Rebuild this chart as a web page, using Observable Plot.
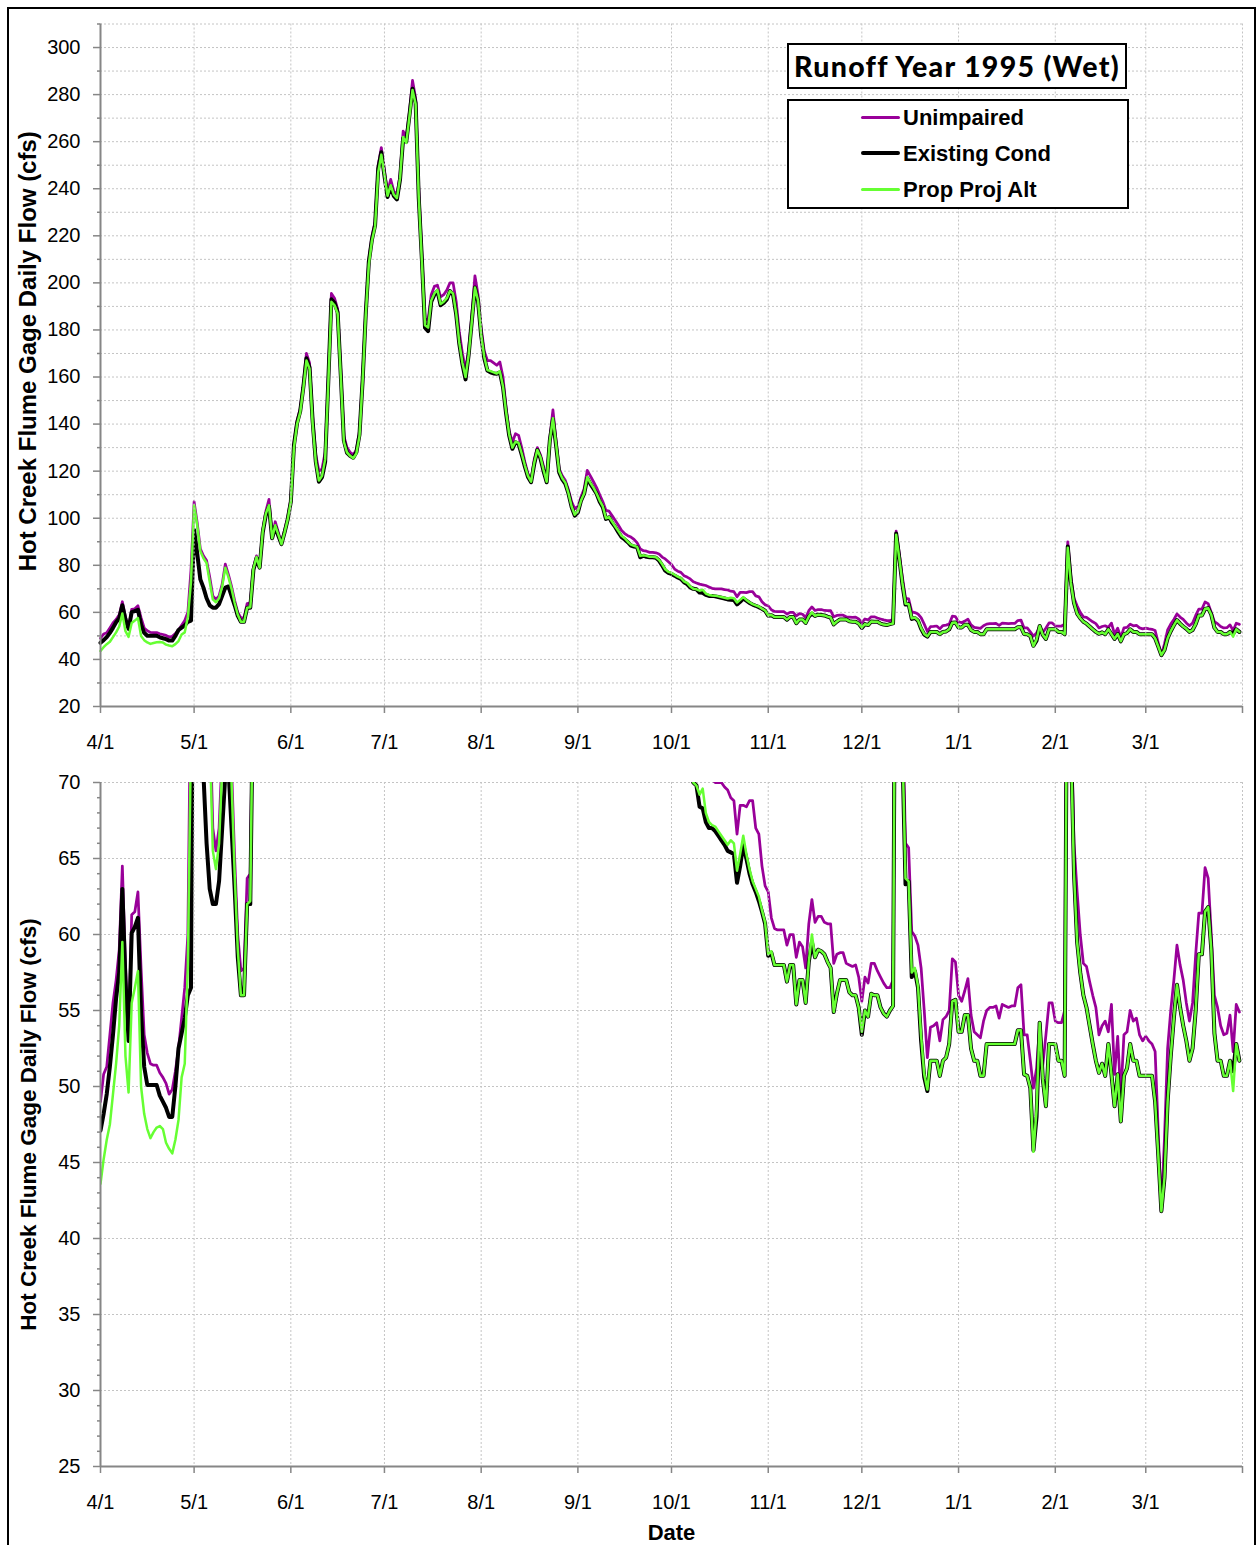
<!DOCTYPE html>
<html>
<head>
<meta charset="utf-8">
<script src="https://cdn.jsdelivr.net/npm/d3@7"></script>
<script src="https://cdn.jsdelivr.net/npm/@observablehq/plot@0.6"></script>
<style>
  body { margin: 0; background: #fff; }
  #wrap { position: relative; width: 1259px; height: 1545px; overflow: hidden; background: #fff;
          font-family: "Liberation Sans", Arial, sans-serif; }
  #topChart { position: absolute; left: 0; top: 0; }
  #bottomChart { position: absolute; left: 0; top: 770px; }
  #frame { position: absolute; left: 7px; top: 7px; width: 1249px; height: 1700px; border: 2px solid #000;
           box-sizing: border-box; pointer-events: none; }
  #titleBox { position: absolute; left: 787px; top: 43px; width: 340px; height: 46px; border: 2px solid #000;
              box-sizing: border-box; background: #fff; display: flex; align-items: center; justify-content: center; }
  #titleText { font-family: Lato, "Open Sans", sans-serif; font-weight: 900; font-size: 28.5px; white-space: nowrap; color: #000; }
  #legendBox { position: absolute; left: 787px; top: 99px; width: 342px; height: 110px; border: 2px solid #000;
               box-sizing: border-box; background: #fff; }
  .legLine { position: absolute; left: 72px; width: 39px; }
  .legText { position: absolute; left: 114px; font-family: "Liberation Sans", Arial, sans-serif; font-weight: bold;
             font-size: 22px; line-height: 22px; white-space: nowrap; color: #000; }
</style>
</head>
<body>
<div id="wrap">
  <div id="topChart"></div>
  <div id="bottomChart"></div>
  <div id="titleBox"><span id="titleText"></span></div>
  <div id="legendBox"></div>
  <div id="frame"></div>
</div>
<script>
// ---------------- data ----------------
const chartTitle = "Runoff Year 1995 (Wet)";
const yTitle = "Hot Creek Flume Gage Daily Flow (cfs)";
const xTitle = "Date";
const seriesNames = ["Unimpaired", "Existing Cond", "Prop Proj Alt"];
const seriesColors = ["#990099", "#000000", "#66ff33"];
const monthTickLabels = ["4/1","5/1","6/1","7/1","8/1","9/1","10/1","11/1","12/1","1/1","2/1","3/1"];
const topYTicks = [20,40,60,80,100,120,140,160,180,200,220,240,260,280,300];
const bottomYTicks = [25,30,35,40,45,50,55,60,65,70];

// daily flow (cfs), day 0 = 4/1/1995
const unimpaired = [
  49, 50.8, 51.3, 53.4, 55.5, 57, 59, 64.5, 58, 53.2,
  61.3, 61.5, 62.8, 57.8, 53.4, 52.2, 51.5, 51.4, 51.4, 50.9,
  50.6, 50.2, 49.5, 49.8, 51, 52.5, 54.5, 56.5, 60, 78,
  107, 98, 87, 84, 82, 75, 67, 65.5, 67, 72,
  80.5, 76, 71, 65, 60, 57.6, 57.8, 63.7, 64, 79,
  84, 79.5, 95, 103, 108, 92, 98.5, 94, 89.5, 95,
  100.5, 108, 132, 141.5, 146.5, 157, 170, 166, 143, 127,
  120, 121, 128, 160, 195.5, 193.5, 189, 163, 135, 130,
  128, 127, 129, 137, 160, 188, 210, 220, 226, 250,
  257.5, 248, 238.5, 244, 239, 237.5, 246, 264.5, 262, 272.5,
  286, 278.5, 240, 212, 184.5, 184.5, 195, 198.5, 199, 194,
  195, 197, 200, 200, 192, 179, 170, 163, 172, 186,
  203, 195, 181, 171, 167, 167, 166, 165, 166.4, 160,
  147, 137, 132.3, 135.9, 135.2, 130, 124, 119, 116, 125,
  130, 127, 122, 116.5, 134, 146, 133, 121, 118, 116,
  112, 107, 104, 105, 109, 112.5, 120.3, 118, 115.5, 113,
  110, 107, 103.3, 103, 101, 99, 97, 94.8, 93.5, 92.6,
  92, 91, 89.5, 87, 86.2, 86, 85.5, 85.5, 85.3, 84.8,
  83.5, 82.7, 81.5, 80.3, 78.4, 77.5, 77, 75.6, 75, 74.2,
  73, 72.5, 72, 71.7, 71.4, 70.8, 70.2, 70, 70, 70,
  69.7, 69.5, 69, 68.8, 66.6, 68.5, 68.5, 68.4, 68.8, 68.8,
  67, 66.6, 64.5, 63.2, 62.8, 61.1, 60.4, 60.3, 60.3, 60.3,
  59.3, 60, 60, 58.5, 59.5, 59.2, 57.8, 60.7, 62.3, 60.8,
  61.2, 61.2, 60.8, 60.7, 60.7, 58.1, 58.7, 58.8, 58.8, 58.1,
  58, 57.9, 58, 57.2, 55.6, 57.2, 56.8, 58.1, 58.1, 57.6,
  57.2, 56.8, 56.5, 56.5, 57, 94.5, 85, 75, 66, 65.7,
  60.2, 59.9, 59.3, 57.8, 55, 51.9, 53.9, 54, 54.2, 53,
  54.4, 54.6, 55, 58.4, 58.2, 56, 55.6, 56.3, 57.1, 54.7,
  53.6, 53.4, 53.2, 54.3, 55, 55.2, 55.2, 55.3, 54.5, 55.4,
  55.3, 55.2, 55.3, 55.3, 56.5, 56.7, 53.4, 53.4, 51.7, 49.9,
  51.2, 54.1, 51.4, 53.4, 55.5, 55.5, 54.3, 54.2, 54.2, 55,
  90, 75, 66, 62.8, 60, 58.1, 57.9, 56.9, 56, 55.2,
  53.4, 54, 54.3, 53.6, 55.4, 50.8, 53.3, 49.3, 53.4, 53.6,
  55, 54.3, 54.5, 53.4, 53, 53.3, 53, 52.8, 52.3, 47,
  41.8, 46.6, 52.5, 55, 57, 59.3, 58, 57, 55.5, 54.3,
  55.5, 58.7, 61.4, 61.4, 64.4, 63.7, 60, 56, 55.2, 54,
  53.4, 53.5, 54.7, 52.3, 55.4, 54.9
];

const existingCond = [
  47.1, 48.2, 49.5, 51.3, 53.4, 55.8, 57.5, 63, 57, 53,
  60.1, 60.5, 61.1, 54.8, 51.3, 50.1, 50.1, 50.1, 50.1, 49.4,
  49, 48.6, 48, 48, 50, 52.5, 53.5, 54.5, 56, 56.5,
  95, 85, 74, 70.5, 66, 63, 62, 62, 63.5, 67,
  70.5, 71, 67, 63, 58.5, 56, 56, 62, 62, 78,
  83, 79, 94, 101.5, 105, 91.5, 96.5, 92.5, 89, 94,
  99.5, 107, 131, 140.5, 145.5, 155.5, 168, 164, 141, 124,
  115.5, 117.5, 124, 158, 193, 191.5, 187.5, 161, 133, 127.8,
  126.5, 125.7, 128, 135.5, 158.3, 186.6, 209, 218.5, 224.5, 248.5,
  255.5, 245.5, 236.5, 241, 237, 235.5, 244, 261.5, 260, 271,
  282.5, 276.5, 236, 210, 181, 179.5, 192, 195, 196.5, 190.5,
  191.5, 193, 196.5, 195, 186.6, 174, 165.4, 159, 169.6, 183.8,
  198, 192.3, 177.5, 168, 162.8, 162, 161.5, 161.4, 162, 155.7,
  144.4, 135, 129.5, 132.3, 131.6, 127, 122, 117.5, 115.3, 123,
  129, 125.5, 120, 115.3, 133, 142, 131, 119.5, 116.5, 114.6,
  110.4, 104.7, 101.1, 102.5, 107.5, 110.4, 117, 114.6, 112.5, 110.4,
  107, 104.7, 99.7, 100.4, 98, 96.2, 94, 92, 91, 89.8,
  88.4, 88, 87.7, 83.4, 84.1, 83.6, 83.4, 83.4, 83.2, 82,
  80, 77.7, 76.8, 76.3, 75.6, 74.8, 74.2, 72.8, 72, 70.6,
  70, 69.8, 68.4, 68.3, 67.4, 67, 67, 66.8, 66.5, 66.2,
  65.9, 65.5, 65.4, 65.3, 63.4, 64.5, 65.9, 65, 64, 63.3,
  62.8, 62.2, 61.5, 60.7, 58.6, 58.8, 58, 58, 58, 58,
  56.9, 58, 58, 55.4, 57, 57, 55.5, 58.2, 59.5, 58.5,
  59, 58.9, 58.7, 58.2, 57.8, 54.9, 56.1, 57, 57, 57,
  56.2, 56, 56, 55.2, 53.4, 55, 54.6, 56.1, 56, 56,
  55.2, 54.8, 54.6, 55, 55.3, 93.5, 83, 72, 63.3, 63.5,
  57.2, 57.6, 56.5, 53, 50.6, 49.7, 51.7, 51.7, 51.7, 50.7,
  51.7, 51.9, 52.8, 55.6, 55.7, 53.6, 53.6, 54.7, 54.7, 52.5,
  51.7, 51.7, 50.7, 50.7, 52.8, 52.8, 52.8, 52.8, 52.8, 52.8,
  52.8, 52.8, 52.8, 52.8, 53.7, 53.7, 50.8, 50.7, 49.9, 45.8,
  48, 54.2, 50.5, 48.7, 52.8, 52.8, 52.8, 51.7, 51.7, 50.7,
  88, 73, 64, 59.5, 57.5, 56, 55.2, 54, 52.8, 51.7,
  50.9, 51.5, 50.7, 52.8, 50.8, 48.7, 50.8, 47.7, 50.7, 51.2,
  52.8, 51.7, 51.7, 50.7, 50.7, 50.7, 50.7, 50.7, 49, 45.5,
  41.8, 44, 49, 52, 54.5, 56.7, 55.2, 54, 53, 51.7,
  52.5, 55, 58.7, 58.7, 61.5, 61.8, 59, 53.5, 51.7, 51.7,
  50.7, 50.7, 51.7, 51, 52.8, 51.7
];

const propProjAlt = [
  43.6, 45.2, 46.5, 47.5, 49.5, 51.5, 54, 59.5, 52, 49.6,
  55.5, 56.5, 57.6, 50, 48.2, 47.2, 46.6, 47, 47.3, 47.4,
  47.2, 46.3, 45.9, 45.6, 46.5, 47.8, 50.6, 51.5, 58, 73,
  105.5, 97, 86, 83, 81, 73, 65.5, 64.3, 66, 71,
  79, 75, 70, 64, 59, 56, 56, 62, 62.2, 78.5,
  83.5, 79, 94.5, 102, 105.5, 91.5, 97, 93, 89, 94,
  99.5, 107, 130, 140, 145, 155, 167, 163.5, 140, 124,
  116, 118, 125, 157, 192, 190.5, 187, 160.5, 132.5, 128,
  126.5, 125.5, 127.5, 135, 158, 186, 208, 218, 224, 247,
  254.5, 246, 237, 241.5, 237.5, 236, 244.5, 262, 259.5, 270.5,
  282, 276, 236.5, 209, 182, 181, 192.5, 195.5, 197, 191,
  192, 193.5, 196.5, 195.5, 187, 174.5, 166, 160, 169.5, 183.5,
  198, 192.5, 178, 168.5, 163, 162.5, 162, 161.5, 162.5, 156,
  145, 135.5, 130, 132.5, 132, 127.5, 122.5, 118, 115.5, 123.5,
  129, 126, 120.5, 115.5, 133, 142.5, 131.5, 120, 117, 115,
  110.5, 105, 101.5, 103, 107.5, 110.5, 117.5, 115, 113, 110.5,
  107.5, 105, 100, 100.5, 98.5, 96.5, 94.5, 92.5, 91.5, 90,
  88.8, 88.3, 87.8, 84, 84.3, 84, 83.6, 83.6, 83.4, 82.3,
  80.5, 78.3, 77.2, 76.8, 76, 75.2, 74.6, 73.2, 72.5, 71,
  70, 69.8, 69.2, 69.6, 68, 67.4, 67.2, 67.1, 66.8, 66.5,
  66.2, 65.9, 66.2, 66, 64.2, 65.3, 66.5, 65.3, 64.3, 63.5,
  63, 62.5, 61.6, 60.8, 58.7, 58.9, 58, 58, 58, 58,
  56.9, 58, 58, 55.4, 57, 57, 55.5, 58.2, 60, 58.5,
  59, 58.9, 58.7, 58.2, 57.8, 54.9, 56.1, 57, 57, 57,
  56.2, 56, 56, 55.2, 53.6, 55, 54.6, 56.1, 56, 56,
  55.2, 54.8, 54.6, 55, 55.3, 93, 83, 72.5, 63.7, 63.5,
  57.5, 57.8, 56.6, 53.3, 50.8, 49.8, 51.7, 51.7, 51.7, 50.7,
  51.7, 51.9, 52.8, 55.6, 55.7, 53.6, 53.6, 54.7, 54.7, 52.5,
  51.7, 51.7, 50.7, 50.7, 52.8, 52.8, 52.8, 52.8, 52.8, 52.8,
  52.8, 52.8, 52.8, 52.8, 53.7, 53.7, 50.8, 50.7, 49.9, 45.7,
  48.5, 54.2, 50.5, 48.7, 52.8, 52.8, 52.8, 51.7, 51.7, 50.7,
  87.5, 72.5, 64, 59.5, 57.5, 56, 55.2, 54, 52.8, 51.7,
  50.9, 51.5, 50.7, 52.8, 50.8, 48.7, 50.8, 47.7, 50.7, 51.2,
  52.8, 51.7, 51.7, 50.7, 50.7, 50.7, 50.7, 50.7, 49, 45.5,
  41.8, 44, 49, 52, 54.5, 56.7, 55.2, 54, 53, 51.7,
  52.5, 55, 58.7, 58.7, 61.5, 61.8, 59, 53.5, 51.7, 51.7,
  50.7, 50.7, 51.7, 49.7, 52.8, 51.7
];

if (unimpaired.length !== existingCond.length || unimpaired.length !== propProjAlt.length) {
  throw new Error("length mismatch " + unimpaired.length + " " + existingCond.length + " " + propProjAlt.length);
}

// ---------------- build ----------------
const START = new Date(Date.UTC(1995, 3, 1));
const END = new Date(Date.UTC(1996, 3, 1));
const monthTicks = d3.utcMonth.range(START, d3.utcDay.offset(END, 1)); // 4/1/95 .. 4/1/96
const tickLabel = d => { const i = monthTicks.findIndex(t => +t === +d); return i >= 0 && i < monthTickLabels.length ? monthTickLabels[i] : ""; };

const rows = unimpaired.map((v, i) => ({
  date: d3.utcDay.offset(START, i),
  unimpaired: v,
  existing: existingCond[i],
  prop: propProjAlt[i]
}));

const GRID = {stroke: "#c4c4c4", strokeOpacity: 1, strokeWidth: 1, strokeDasharray: "2,2"};
const AXC = "#868686";
const FONT = "'Liberation Sans', Arial, sans-serif";

function seriesMarks(clip) {
  return [
    Plot.line(rows, {x: "date", y: "unimpaired", stroke: seriesColors[0], strokeWidth: 2.75, strokeLinejoin: "round", clip}),
    Plot.line(rows, {x: "date", y: "existing", stroke: seriesColors[1], strokeWidth: 4, strokeLinejoin: "round", clip}),
    Plot.line(rows, {x: "date", y: "prop", stroke: seriesColors[2], strokeWidth: 2.5, strokeLinejoin: "round", clip})
  ];
}

function xAxisMarks(yBase) {
  return [
    Plot.gridX(monthTicks.slice(1), GRID),
    Plot.ruleY([yBase], {stroke: AXC, strokeWidth: 2}),
    Plot.ruleX([START], {stroke: AXC, strokeWidth: 2}),
    Plot.axisX(monthTicks, {tickSize: 7, tickPadding: 21, tickFormat: tickLabel, stroke: AXC, fill: "#000",
                            strokeWidth: 1.5, fontSize: 20, label: null})
  ];
}

// top panel
const topMinor = d3.range(30, 311, 20);
const topPlot = Plot.plot({
  width: 1259, height: 770,
  marginLeft: 100, marginRight: 17, marginTop: 23.5, marginBottom: 64,
  style: {background: "none", fontFamily: FONT, fontSize: "20px", color: "#000", overflow: "visible"},
  x: {type: "utc", domain: [START, END]},
  y: {domain: [20, 310]},
  marks: [
    Plot.gridY(d3.range(30, 311, 10), GRID),
    ...seriesMarks(false),
    ...xAxisMarks(20),
    Plot.axisY(topYTicks, {tickSize: 7, tickPadding: 13, stroke: AXC, fill: "#000", strokeWidth: 1.5, fontSize: 20, label: null}),
    Plot.axisY(topMinor, {tickSize: 3, tickPadding: 0, tickFormat: () => "", stroke: AXC, strokeWidth: 1.5, label: null}),
    Plot.text([yTitle], {text: d => d, frameAnchor: "left", rotate: -90, dx: -72, dy: -14,
                         textAnchor: "middle", lineAnchor: "middle", fontSize: 24, fontWeight: "bold", fill: "#000"})
  ]
});
document.getElementById("topChart").appendChild(topPlot);

// bottom panel (zoom 25-70)
const bottomMinor = d3.range(26, 70).filter(v => v % 5 !== 0);
const bottomPlot = Plot.plot({
  width: 1259, height: 775,
  marginLeft: 100, marginRight: 17, marginTop: 12, marginBottom: 79,
  style: {background: "none", fontFamily: FONT, fontSize: "20px", color: "#000", overflow: "visible"},
  x: {type: "utc", domain: [START, END]},
  y: {domain: [25, 70]},
  marks: [
    Plot.gridY(d3.range(30, 71, 5), GRID),
    ...seriesMarks(true),
    ...xAxisMarks(25),
    Plot.axisY(bottomYTicks, {tickSize: 7, tickPadding: 13, stroke: AXC, fill: "#000", strokeWidth: 1.5, fontSize: 20, label: null}),
    Plot.axisY(bottomMinor, {tickSize: 3, tickPadding: 0, tickFormat: () => "", stroke: AXC, strokeWidth: 1.5, label: null}),
    Plot.text([yTitle], {text: d => d, frameAnchor: "left", rotate: -90, dx: -72, dy: 0,
                         textAnchor: "middle", lineAnchor: "middle", fontSize: 22.5, fontWeight: "bold", fill: "#000"}),
    Plot.text([xTitle], {text: d => d, frameAnchor: "bottom", dy: 66, textAnchor: "middle", lineAnchor: "middle",
                         fontSize: 22, fontWeight: "bold", fill: "#000"})
  ]
});
document.getElementById("bottomChart").appendChild(bottomPlot);

// title + legend
const titleEl = document.getElementById("titleText");
titleEl.textContent = chartTitle;
const tw = titleEl.getBoundingClientRect().width;
titleEl.style.letterSpacing = ((325 - tw) / chartTitle.length) + "px";

const legend = document.getElementById("legendBox");
const legRows = [
  {lineTop: 117.3, textTop: 107.4, width: 3},
  {lineTop: 153.3, textTop: 143.1, width: 4},
  {lineTop: 189.3, textTop: 179.1, width: 3}
];
seriesNames.forEach((name, i) => {
  const r = legRows[i];
  const ln = document.createElement("div");
  ln.className = "legLine";
  ln.style.top = (r.lineTop - 99 - 2 - r.width / 2) + "px";
  ln.style.height = r.width + "px";
  ln.style.background = seriesColors[i];
  ln.style.borderRadius = (r.width / 2) + "px";
  legend.appendChild(ln);
  const tx = document.createElement("div");
  tx.className = "legText";
  tx.style.top = (r.textTop - 99 - 2) + "px";
  tx.textContent = name;
  legend.appendChild(tx);
});
</script>
</body>
</html>
